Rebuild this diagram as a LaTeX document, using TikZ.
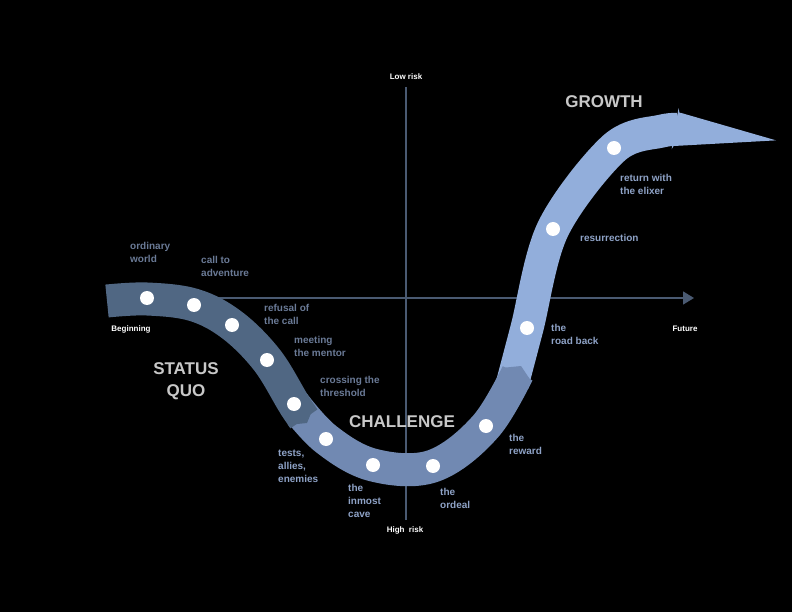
\documentclass[tikz,border=0pt]{standalone}
\usepackage{fontspec}
\setmainfont{Liberation Sans}
\usetikzlibrary{arrows.meta}
\definecolor{axisc}{HTML}{4A5A72}
\definecolor{bandA}{HTML}{506783}
\definecolor{bandB}{HTML}{7189B2}
\definecolor{bandC}{HTML}{92AEDB}
\definecolor{lblA}{HTML}{6A7A96}
\definecolor{lblB}{HTML}{8EA2C6}
\definecolor{ttl}{HTML}{C8C8C8}
\tikzset{
  band/.style={line width=33pt, line cap=butt},
  stop/.style={circle, fill=white, minimum size=14pt, inner sep=0pt},
  lbl/.style={anchor=north west, align=left, font=\bfseries\fontsize{10}{13}\selectfont, inner sep=0pt},
  ttlstyle/.style={align=center, font=\bfseries\fontsize{17}{22}\selectfont, text=ttl, inner sep=0pt},
  ax/.style={font=\bfseries\fontsize{8}{10}\selectfont, text=white, inner sep=0pt}
}
\begin{document}
\begin{tikzpicture}[x=1pt,y=-1pt]
\fill[black] (0,0) rectangle (792,612);
\useasboundingbox (0,0) rectangle (792,612);
% axes
\coordinate (hx0) at (107,298);
\coordinate (hx1) at (694,298);
\coordinate (vy0) at (406,87);
\coordinate (vy1) at (406,520);
\draw[axisc, line width=1.5pt, -{Triangle[length=11pt,width=13pt]}] (hx0) -- (hx1);
\draw[axisc, line width=1.5pt] (vy0) -- (vy1);
\node[ax] (low) at (406,77) {Low risk};
\node[ax] (high) at (405,530) {High\ \ risk};
\node[ax] (beg) at (131,329) {Beginning};
\node[ax] (fut) at (685,329) {Future};
% band
\draw[band, bandC, -{Triangle[length=8pt,width=0pt 1.25]}] plot[smooth, tension=0.55] coordinates {(512,385) (527,328) (553,229) (614,148) (662,131) (683,130)};
\draw[band, bandB, -{Triangle[length=10pt,width=0pt 1]}] plot[smooth, tension=0.6] coordinates {(294,404) (326,439) (373,465) (433,466) (486,426) (521,366)};
\draw[band, bandA, -{Triangle[length=10pt,width=0pt 1]}] plot[smooth, tension=0.6] coordinates {(107,301) (147,299) (194,305) (232,325) (267,360) (294,404) (307,423)};
% stops
\foreach \n/\p in {s1/{147,298}, s2/{194,305}, s3/{232,325}, s4/{267,360}, s5/{294,404}, s6/{326,439}, s7/{373,465}, s8/{433,466}, s9/{486,426}, s10/{527,328}, s11/{553,229}, s12/{614,148}}
  \node[stop] (\n) at (\p) {};
% labels
\node[lbl, text=lblA] (l1) at (130,242) {ordinary\\world};
\node[lbl, text=lblA] (l2) at (201,256) {call to\\adventure};
\node[lbl, text=lblA] (l3) at (264,304) {refusal of\\the call};
\node[lbl, text=lblA] (l4) at (294,336) {meeting\\the mentor};
\node[lbl, text=lblA] (l5) at (320,376) {crossing the\\threshold};
\node[lbl, text=lblB] (l6) at (278,450) {tests,\\allies,\\enemies};
\node[lbl, text=lblB] (l7) at (348,484) {the\\inmost\\cave};
\node[lbl, text=lblB] (l8) at (440,488) {the\\ordeal};
\node[lbl, text=lblB] (l9) at (509,434) {the\\reward};
\node[lbl, text=lblB] (l10) at (551,324) {the\\road back};
\node[lbl, text=lblB] (l11) at (580,234) {resurrection};
\node[lbl, text=lblB] (l12) at (620,174) {return with\\the elixer};
% titles
\node[ttlstyle] (t1) at (186,381) {STATUS\\QUO};
\node[ttlstyle] (t2) at (402,422) {CHALLENGE};
\node[ttlstyle] (t3) at (604,102) {GROWTH};
\end{tikzpicture}
\end{document}
